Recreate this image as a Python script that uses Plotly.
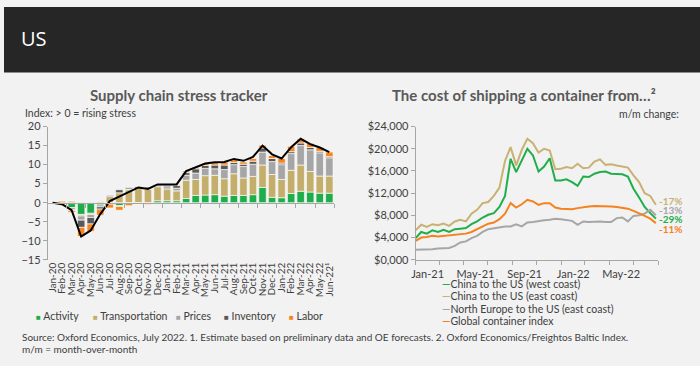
import plotly.graph_objects as go
import pandas as pd

# ---------------- Left chart: supply chain stress tracker ----------------
months = ["Jan-20", "Feb-20", "Mar-20", "Apr-20", "May-20", "Jun-20", "Jul-20", "Aug-20",
          "Sep-20", "Oct-20", "Nov-20", "Dec-20", "Jan-21", "Feb-21", "Mar-21", "Apr-21",
          "May-21", "Jun-21", "Jul-21", "Aug-21", "Sep-21", "Oct-21", "Nov-21", "Dec-21",
          "Jan-22", "Feb-22", "Mar-22", "Apr-22", "May-22", "Jun-22¹"]
activity = [0, -0.2, -1.3, -3.1, -2.8, -0.6, 0, -0.8, 0, 0, 0, 0.5, 0.5, 0.5, 1.1, 1.9,
            2.0, 2.1, 1.7, 1.9, 1.9, 2.1, 4.0, 1.4, 1.3, 2.4, 3.0, 2.8, 2.5, 2.5]
transportation = [0, 0, 0.4, -0.4, -0.3, 0.3, 1.6, 2.6, 3.4, 3.7, 3.5, 3.7, 3.1, 2.6, 4.8, 4.2,
                  5.1, 5.1, 4.6, 5.7, 4.6, 4.8, 5.9, 6.0, 4.8, 6.1, 6.9, 5.4, 4.5, 4.5]
prices = [0, -0.4, -0.6, -1.1, -0.8, -0.5, -0.4, -0.2, 0.2, -0.2, 0.3, 0.4, 0.6, 0.7, 1.3, 1.7,
          1.9, 1.7, 2.4, 2.4, 3.0, 3.2, 3.4, 3.4, 3.9, 4.4, 5.1, 5.7, 6.1, 4.8]
inventory = [0, -0.1, -0.2, -1.9, -1.7, -0.6, 0.3, 0.8, 0.3, 0.5, 0.3, 0.2, 0.4, 0.7, 0.7, 1.1,
             0.8, 1.0, 1.2, 0.6, 0.6, 0.8, 1.1, 0.8, 0.4, 0.5, 0.7, 0.6, 0.4, 0.3]
labor = [0, 0.4, -0.5, -2.4, -1.9, -1.6, -1.0, -1.0, -0.8, -0.1, -0.5, 0.1, 0.2, 0.3, 0.4, 0.4,
         0.6, 0.7, 0.8, 0.7, 0.6, 0.7, 0.7, 0.8, 1.2, 1.4, 1.1, 1.1, 1.1, 1.2]
stress_index = [0, -0.4, -2.0, -8.9, -7.3, -3.0, 0.4, 1.6, 2.8, 4.0, 3.6, 4.8, 4.8, 4.8, 8.3, 9.2,
                10.3, 10.6, 10.7, 11.5, 11.0, 12.0, 15.0, 12.7, 11.6, 14.6, 16.8, 15.4, 14.5, 13.3]
left_y_ticks = [-15, -10, -5, 0, 5, 10, 15, 20]

bar_names = ["Activity", "Transportation", "Prices", "Inventory", "Labor"]
bar_colors = ["#1dae4b", "#c4ae6c", "#a6a6a6", "#595959", "#f5861f"]

# ---------------- Right chart: container shipping cost ----------------
ship_dates = pd.date_range("2021-01-01", periods=44, freq="14D")
china_west = [3900, 5000, 4700, 5300, 5000, 5400, 5000, 5500, 5600, 5700, 6400, 6900, 7600, 8100,
              8400, 9500, 11500, 18200, 15800, 17800, 20000, 18800, 15900, 16800, 18300, 14300,
              14300, 14500, 14000, 13300, 15000, 14900, 15500, 15800, 15900, 15500, 15500, 15400,
              15000, 12800, 11200, 9500, 8400, 7400]
china_east = [5300, 6300, 5900, 6400, 6200, 6500, 6100, 6900, 7200, 6900, 8300, 9000, 10200, 10400,
              11500, 13000, 17800, 20300, 17000, 19800, 21800, 21000, 19300, 20000, 19700, 16300,
              16400, 16700, 16500, 17300, 16500, 16600, 17700, 18100, 17100, 17200, 17000, 16800,
              16600, 15200, 14000, 12000, 11500, 9900]
north_europe = [1800, 1800, 1900, 1900, 2000, 2000, 2100, 2500, 3100, 3300, 3900, 4300, 5000, 5500,
                5700, 5900, 6000, 6000, 6400, 6000, 6700, 6800, 7000, 7100, 7200, 7400, 7300, 7100,
                7000, 6300, 6900, 6800, 6900, 6900, 6800, 6800, 7500, 7600, 6900, 7900, 8000, 8300,
                9000, 8000]
global_index = [3400, 4000, 4100, 4300, 4200, 4300, 4300, 4400, 4500, 4700, 5000, 5500, 6000, 6500,
                6700, 7300, 8300, 10200, 9400, 10000, 10800, 10500, 9900, 10200, 10200, 9400, 9200,
                9200, 9100, 9300, 9500, 9600, 9700, 9700, 9700, 9600, 9500, 9400, 9200, 8800, 8400,
                7900, 7400, 6600]
line_names = ["China to the US (west coast)", "China to the US (east coast)",
              "North Europe to the US (east coast)", "Global container index"]
line_colors = ["#1fae4a", "#c8b173", "#a6a6a6", "#f5821f"]
mm_change = ["-29%", "-17%", "-13%", "-11%"]
mm_shift = [0, 4, 5, -6]
right_y_ticks = [0, 4000, 8000, 12000, 16000, 20000, 24000]
right_y_text = ["$0,000", "$4,000", "$8,000", "$12,000", "$16,000", "$20,000", "$24,000"]
right_x_ticks = ["2021-01-01", "2021-05-01", "2021-09-01", "2022-01-01", "2022-05-01"]
right_x_text = ["Jan-21", "May-21", "Sep-21", "Jan-22", "May-22"]

# ---------------- Layout helpers ----------------
W, H = 700, 366
def px(x):
    return x / W
def py(y):
    return 1 - y / H

FONT = "Lato, Roboto, Liberation Sans, sans-serif"
TXT = "#404040"
AX = "#a6a6a6"

fig = go.Figure()

for name, vals, col in zip(bar_names, [activity, transportation, prices, inventory, labor], bar_colors):
    fig.add_trace(go.Bar(x=months, y=vals, name=name,
                         marker=dict(color=col, line=dict(color="rgba(255,255,255,0.8)", width=0.8)),
                         xaxis="x", yaxis="y", showlegend=False))

fig.add_trace(go.Scatter(x=months, y=stress_index, mode="lines", line=dict(color="black", width=2),
                         xaxis="x3", yaxis="y", showlegend=False, name="Index"))

for name, vals, col in zip(line_names, [china_west, china_east, north_europe, global_index], line_colors):
    fig.add_trace(go.Scatter(x=ship_dates, y=vals, mode="lines", name=name, line=dict(color=col, width=2),
                             xaxis="x2", yaxis="y2", showlegend=False))

annotations = []
def ann(x, y, text, size=10.5, color=TXT, xanchor="left", bold=False, family=FONT):
    annotations.append(dict(x=px(x), y=py(y), xref="paper", yref="paper",
                            text=("<b>%s</b>" % text) if bold else text,
                            showarrow=False, xanchor=xanchor, yanchor="middle",
                            font=dict(size=size, color=color, family=family)))

ann(15, 33, "US", size=20, color="white", family="Open Sans, Noto Sans, sans-serif")
ann(176, 91, "Supply chain stress tracker", size=15, color="#595959", xanchor="center", bold=True)
ann(523, 91, "The cost of shipping a container from…²", size=15, color="#595959", xanchor="center", bold=True)
ann(19, 110, "Index: > 0 = rising stress", size=10.5)
ann(681, 111, "m/m change:", size=10.5, xanchor="right")
ann(16, 342, "Source: Oxford Economics, July 2022. 1. Estimate based on preliminary data and OE forecasts. "
             "2. Oxford Economics/Freightos Baltic Index.", size=10)
ann(16, 355, "m/m = month-over-month", size=10)

legend_x = [30, 87, 171, 219, 285]
for name, col, lx in zip(bar_names, bar_colors, legend_x):
    ann(lx, 320, "<span style='color:%s;font-size:8px'>■</span> %s" % (col, name), size=10.5)

legend_y = [287, 300, 313, 326]
for name, col, ly in zip(line_names, line_colors, legend_y):
    ann(439, ly, "<span style='color:%s'><b>—</b></span>%s" % (col, name), size=10.5)

for vals, col, lab, sh in zip([china_west, china_east, north_europe, global_index], line_colors, mm_change, mm_shift):
    annotations.append(dict(x=ship_dates[-1], y=vals[-1], xref="x2", yref="y2", text="<b>%s</b>" % lab,
                            showarrow=False, xanchor="left", yanchor="middle", xshift=1, yshift=sh,
                            font=dict(size=10, color=col, family=FONT)))

fig.update_layout(
    width=W, height=H, margin=dict(l=0, r=0, t=0, b=0),
    paper_bgcolor="#f2f2f2", plot_bgcolor="rgba(0,0,0,0)",
    barmode="relative", bargap=0.22,
    font=dict(family=FONT, color=TXT, size=10.5),
    showlegend=False,
    xaxis=dict(domain=[px(44), px(332)], anchor="y", type="category", range=[-0.5, 29.5],
               tickmode="array", tickvals=months, ticktext=months,
               tickangle=-90, ticks="", showline=False, showgrid=False, tickfont=dict(size=10, color=TXT)),
    xaxis3=dict(domain=[px(44), px(332)], overlaying="x", anchor="free", position=py(203), type="category",
                range=[-0.5, 29.5], showticklabels=False, ticks="outside", ticklen=4, tickson="boundaries",
                tickcolor=AX, showline=True, linecolor=AX, linewidth=1, showgrid=False),
    yaxis=dict(domain=[py(262), py(124)], anchor="x", range=[-15, 20], tickvals=left_y_ticks,
               ticks="outside", ticklen=4, tickcolor=AX, showline=True, linecolor=AX, showgrid=False,
               zeroline=False, tickfont=dict(size=11, color=TXT)),
    xaxis2=dict(domain=[px(414), px(658)], anchor="y2", type="date", range=["2021-01-01", "2022-09-01"],
                tickvals=right_x_ticks, ticktext=right_x_text, ticks="outside", ticklen=4, tickcolor=AX,
                minor=dict(ticks="outside", ticklen=4, dtick="M2", tick0="2021-01-01", tickcolor=AX),
                ticklabelshift=12, showline=True, linecolor=AX, showgrid=False, tickangle=0,
                tickfont=dict(size=11, color=TXT)),
    yaxis2=dict(domain=[py(262), py(124)], anchor="x2", range=[0, 24000], tickvals=right_y_ticks,
                ticktext=right_y_text, ticks="outside", ticklen=4, tickcolor=AX, showline=True,
                linecolor=AX, showgrid=False, zeroline=False, tickfont=dict(size=11, color=TXT)),
    shapes=[dict(type="rect", xref="paper", yref="paper", x0=0, x1=1, y0=py(68), y1=1,
                 fillcolor="#262626", line=dict(width=0), layer="below")],
    annotations=annotations,
)

fig.write_html(
    "out.html",
    config={"displayModeBar": False, "responsive": False},
    post_script=("document.documentElement.style.margin='0px';document.body.style.margin='0px';"
                 "document.documentElement.style.overflow='hidden';document.body.style.overflow='hidden';"),
)
